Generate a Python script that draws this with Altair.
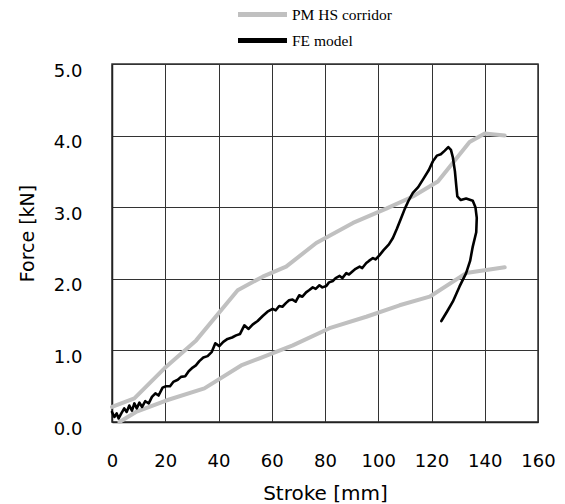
import altair as alt
import pandas as pd

# PM HS corridor (upper bound)
upper_x = [0.0, 8.4, 19.7, 31.6, 47.2, 56.6, 65.4, 76.7, 90.5, 103.0, 113.0, 122.4, 134.3, 140.0, 147.5]
upper_y = [0.21, 0.33, 0.75, 1.14, 1.84, 2.03, 2.17, 2.50, 2.78, 2.98, 3.15, 3.36, 3.91, 4.03, 4.00]

# PM HS corridor (lower bound)
lower_x = [2.8, 9.0, 20.3, 34.7, 48.5, 55.4, 67.9, 81.7, 95.5, 108.0, 119.3, 133.0, 147.5]
lower_y = [0.00, 0.14, 0.30, 0.47, 0.79, 0.89, 1.07, 1.31, 1.47, 1.63, 1.75, 2.08, 2.16]

# FE model
fe_x = [0.0, 0.9, 1.75, 2.5, 3.5, 4.6, 5.5, 6.5, 7.5, 8.4, 9.3, 10.3, 11.3, 12.5, 13.8,
        15.0, 16.3, 17.5, 19.0, 20.3, 21.8, 23.0, 24.7, 25.9, 27.5, 28.8, 30.3, 31.5,
        32.8, 34.3, 35.9, 37.5, 38.8, 40.3, 41.8, 43.4, 45.1, 46.6, 48.1, 49.7, 51.3,
        52.8, 54.7, 56.6, 58.4, 60.3, 61.5, 62.8, 64.0, 65.3, 66.5, 67.8, 69.0, 70.3,
        71.5, 72.9, 74.0, 75.4, 76.5, 77.9, 79.0, 80.5, 81.5, 83.0, 84.0, 85.5, 86.5,
        88.0, 89.0, 90.5, 91.5, 93.0, 94.0, 95.5, 96.5, 98.0, 99.0, 100.5, 102.0, 104.0,
        105.5, 107.0, 108.5, 110.0, 111.5, 113.0, 115.0, 117.0, 119.0, 120.5, 122.0,
        123.5, 125.0, 126.3, 127.3, 128.0, 128.8, 129.3, 129.7, 131.0, 133.0, 135.5,
        136.5, 137.0, 136.8, 135.5, 134.5, 133.0, 130.5, 128.0, 125.8, 123.7]
fe_y = [0.14, 0.07, 0.12, 0.05, 0.12, 0.19, 0.14, 0.23, 0.16, 0.26, 0.19, 0.27, 0.21, 0.29, 0.26,
        0.35, 0.40, 0.37, 0.48, 0.50, 0.50, 0.56, 0.59, 0.63, 0.64, 0.71, 0.76, 0.79,
        0.85, 0.90, 0.92, 0.98, 1.10, 1.06, 1.12, 1.16, 1.18, 1.21, 1.23, 1.35, 1.30,
        1.36, 1.41, 1.48, 1.54, 1.58, 1.56, 1.62, 1.61, 1.66, 1.70, 1.71, 1.68, 1.77,
        1.75, 1.81, 1.84, 1.88, 1.86, 1.91, 1.88, 1.90, 1.95, 1.97, 2.01, 2.04, 2.01,
        2.08, 2.06, 2.11, 2.14, 2.17, 2.15, 2.22, 2.25, 2.29, 2.27, 2.33, 2.40, 2.48,
        2.57, 2.70, 2.84, 2.98, 3.10, 3.20, 3.28, 3.40, 3.52, 3.64, 3.72,
        3.74, 3.79, 3.84, 3.80, 3.70, 3.50, 3.30, 3.15, 3.10, 3.12, 3.09,
        3.00, 2.85, 2.65, 2.45, 2.25, 2.08, 1.89, 1.68, 1.54, 1.41]

series_names = ["PM HS corridor", "FE model"]
series_colors = ["#c0c0c0", "#000000"]

x_ticks = [0, 20, 40, 60, 80, 100, 120, 140, 160]
y_ticks = [0, 1, 2, 3, 4, 5]

rows = []
for name, curve, xs, ys in [
    ("PM HS corridor", "upper", upper_x, upper_y),
    ("PM HS corridor", "lower", lower_x, lower_y),
    ("FE model", "fe", fe_x, fe_y),
]:
    for i, (xv, yv) in enumerate(zip(xs, ys)):
        rows.append({"series": name, "curve": curve, "stroke": xv, "force": yv, "idx": i})
df = pd.DataFrame(rows)

FONT = "DejaVu Sans"

x_enc = alt.X("stroke:Q",
              scale=alt.Scale(domain=[0, 160], nice=False, zero=False),
              axis=alt.Axis(values=x_ticks, title="Stroke [mm]", ticks=False,
                            labelFlush=False, labelOverlap=False,
                            labelPadding=30, labelBaseline="top", labelFont=FONT,
                            labelFontSize=18, labelColor="#000",
                            titleFont=FONT, titleFontSize=20, titleFontWeight="normal",
                            titleColor="#000", titleY=77, titleBaseline="alphabetic",
                            domainColor="#222", domainWidth=1.5,
                            gridColor="#333", gridWidth=1))
y_enc = alt.Y("force:Q",
              scale=alt.Scale(domain=[0, 5], nice=False),
              axis=alt.Axis(values=y_ticks, format=".1f", title="Force [kN]", ticks=False,
                            labelFlush=False, labelOverlap=False,
                            labelPadding=30, labelOffset=7, labelFont=FONT,
                            labelFontSize=18, labelColor="#000",
                            titleFont=FONT, titleFontSize=19, titleFontWeight="normal",
                            titleColor="#000", titleX=-85, titleY=169, titleAngle=270,
                            titleAlign="center", titleBaseline="middle",
                            domainColor="#222", domainWidth=1.5,
                            gridColor="#333", gridWidth=1))
# wide horizontal stroke symbol drawn from a small nominal size so rows stay compact
color_enc = alt.Color("series:N",
                      scale=alt.Scale(domain=series_names, range=series_colors),
                      legend=alt.Legend(title=None, orient="none", legendX=138, legendY=-62,
                                        symbolType="M-2.5,0L2.5,0", symbolSize=384,
                                        symbolStrokeWidth=5, labelFont="Liberation Serif",
                                        labelFontSize=15.5, labelColor="#000",
                                        labelOffset=17, rowPadding=3, padding=0))

base = alt.Chart(df).encode(x=x_enc, y=y_enc, color=color_enc,
                            detail="curve:N", order="idx:Q")

corridor = base.transform_filter(alt.datum.series == "PM HS corridor").mark_line(
    strokeWidth=4, strokeJoin="round", strokeCap="round")
fe = base.transform_filter(alt.datum.series == "FE model").mark_line(
    strokeWidth=2.6, strokeJoin="round", strokeCap="round")

chart = alt.layer(corridor, fe).properties(
    width=426, height=358,
    padding={"left": 112, "top": 64, "right": 27, "bottom": 82},
    autosize=alt.AutoSizeParams(type="none"),
).configure_view(stroke="#333", strokeWidth=1.5)

chart.save("out.html", embed_options={"renderer": "svg", "actions": False})
